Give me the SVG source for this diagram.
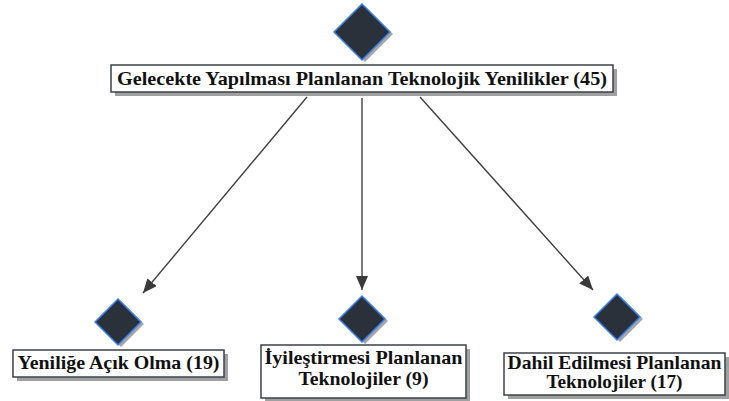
<svg xmlns="http://www.w3.org/2000/svg" width="729" height="401" viewBox="0 0 729 401">
<defs>
<style>
.box{fill:#ffffff;stroke:#3c4249;stroke-width:1.5}
.shadow{fill:#a0a0a0}
.dia{fill:#2a313a;stroke:#3b82f0;stroke-width:1.5}
.dshadow{fill:#a6a6a6}
text{font-family:'Liberation Serif','Times New Roman','DejaVu Serif',serif;font-weight:700;font-size:19px;fill:#111111;text-anchor:middle}
.edge{stroke:#404040;stroke-width:1.4;fill:none}
</style>
<marker id="arr" viewBox="0 0 14 12" refX="14" refY="6" markerWidth="14" markerHeight="12" markerUnits="userSpaceOnUse" orient="auto">
<path d="M0,0 L14,6 L0,12 Z" fill="#3a3a3a"/>
</marker>
</defs>
<rect width="729" height="401" fill="#ffffff"/>
<g id="connectors">
<line class="edge" x1="307" y1="97" x2="143" y2="293" marker-end="url(#arr)"/>
<line class="edge" x1="362" y1="98" x2="362" y2="290" marker-end="url(#arr)"/>
<line class="edge" x1="420" y1="97" x2="593" y2="290" marker-end="url(#arr)"/>
</g>
<g id="root">
<path class="dshadow" d="M365,6 L393,34 L365,62 L337,34 Z"/>
<path class="dia" d="M362,4 L390,32 L362,60 L334,32 Z"/>
<rect class="shadow" x="115" y="69" width="502" height="27"/>
<rect class="box" x="111" y="65" width="502" height="27"/>
<text x="362" y="85" textLength="490" lengthAdjust="spacingAndGlyphs">Gelecekte Yapılması Planlanan Teknolojik Yenilikler (45)</text>
</g>
<g id="n1">
<path class="dshadow" d="M121,301 L144,324 L121,347 L98,324 Z"/>
<path class="dia" d="M118,299 L141,322 L118,345 L95,322 Z"/>
<rect class="shadow" x="17" y="354" width="211" height="27"/>
<rect class="box" x="13" y="350" width="211" height="27"/>
<text x="118.5" y="369" textLength="202" lengthAdjust="spacingAndGlyphs">Yeniliğe Açık Olma (19)</text>
</g>
<g id="n2">
<path class="dshadow" d="M365,298 L388,321 L365,344 L342,321 Z"/>
<path class="dia" d="M362,296 L385,319 L362,342 L339,319 Z"/>
<rect class="shadow" x="265" y="349" width="205" height="53"/>
<rect class="box" x="261" y="345" width="205" height="53"/>
<text x="363.5" y="364" textLength="198" lengthAdjust="spacingAndGlyphs">İyileştirmesi Planlanan</text>
<text x="363.5" y="385" textLength="130" lengthAdjust="spacingAndGlyphs">Teknolojiler (9)</text>
</g>
<g id="n3">
<path class="dshadow" d="M620,296 L643,319 L620,342 L597,319 Z"/>
<path class="dia" d="M617,294 L640,317 L617,340 L594,317 Z"/>
<rect class="shadow" x="508" y="357" width="221" height="42"/>
<rect class="box" x="504" y="353" width="221" height="42"/>
<text x="614.5" y="369" textLength="214" lengthAdjust="spacingAndGlyphs">Dahil Edilmesi Planlanan</text>
<text x="614.5" y="388" textLength="136" lengthAdjust="spacingAndGlyphs">Teknolojiler (17)</text>
</g>
</svg>
